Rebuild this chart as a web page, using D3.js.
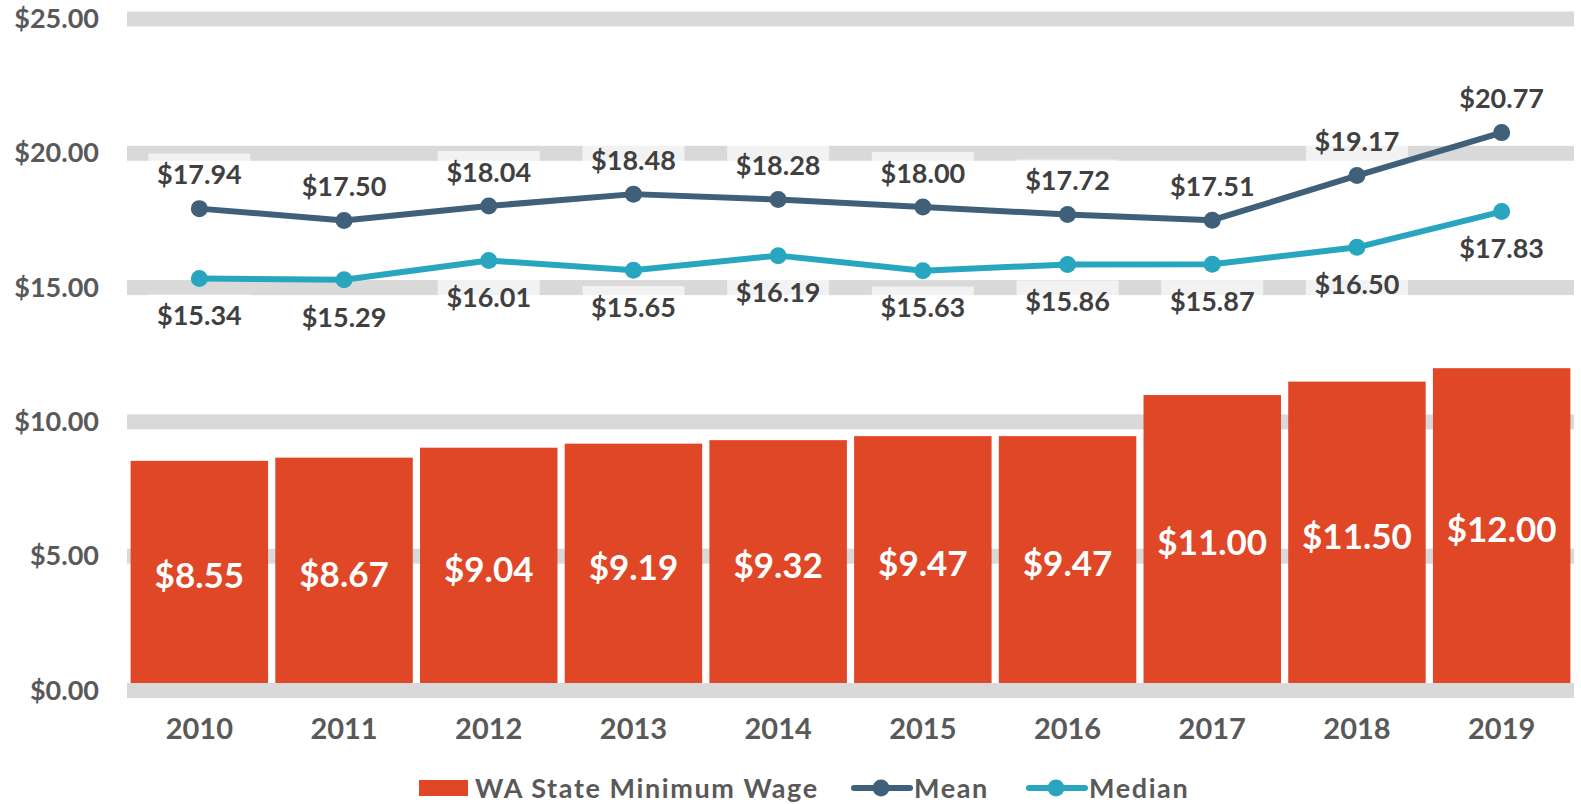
<!DOCTYPE html>
<html>
<head>
<meta charset="utf-8">
<script src="https://cdn.jsdelivr.net/npm/d3@7"></script>
<style>
  body { margin: 0; background: #fff; }
  text { font-family: Lato, "Open Sans", sans-serif; font-weight: 700; }
</style>
</head>
<body>
<div id="chart"></div>
<script>
var years = [2010, 2011, 2012, 2013, 2014, 2015, 2016, 2017, 2018, 2019];
var minWage = [8.55, 8.67, 9.04, 9.19, 9.32, 9.47, 9.47, 11.00, 11.50, 12.00];
var meanWage = [17.94, 17.50, 18.04, 18.48, 18.28, 18.00, 17.72, 17.51, 19.17, 20.77];
var medianWage = [15.34, 15.29, 16.01, 15.65, 16.19, 15.63, 15.86, 15.87, 16.50, 17.83];
var yTicks = [0, 5, 10, 15, 20, 25];

var width = 1581,
  height = 804;

var barColor = '#e04726',
  meanColor = '#3f6078',
  medianColor = '#29a6bf',
  gridColor = '#d9d9d9',
  axisText = '#595959',
  labelText = '#404040';

var money = function(v) { return '$' + v.toFixed(2); };

var svg = d3.select('#chart')
  .append('svg')
  .attr('width', width)
  .attr('height', height);

// Scales

var xScale = d3.scaleBand()
  .domain(years)
  .range([127, 1574])
  .paddingInner(0.05)
  .paddingOuter(0.025);

var yScale = d3.scaleLinear()
  .domain([0, 25])
  .range([690.5, 19]);

var cx = function(d, i) { return xScale(years[i]) + xScale.bandwidth() / 2; };

// Gridlines (thick grey bands), zero line goes on top of the bars later

svg.append('g')
  .selectAll('rect')
  .data(yTicks.filter(function(t) { return t > 0; }))
  .enter()
  .append('rect')
  .attr('x', 127)
  .attr('width', 1574 - 127)
  .attr('y', function(d) { return yScale(d) - 7.5; })
  .attr('height', 15)
  .attr('fill', gridColor);

// Y axis labels

var yAxis = svg.append('g')
  .attr('transform', 'translate(99,0)')
  .call(d3.axisLeft(yScale).tickValues(yTicks).tickSize(0).tickPadding(0).tickFormat(money));
yAxis.select('.domain').remove();
yAxis.selectAll('text')
  .attr('fill', axisText)
  .style('font-size', '27px')
  .style('font-family', 'Lato, sans-serif')
  .style('font-weight', 700);

// X axis labels

var xAxis = svg.append('g')
  .attr('transform', 'translate(0,729)')
  .call(d3.axisBottom(xScale).tickSize(0).tickPadding(0));
xAxis.select('.domain').remove();
xAxis.selectAll('text')
  .attr('dy', '0.35em')
  .attr('y', 0)
  .attr('fill', axisText)
  .style('font-size', '29px')
  .style('font-family', 'Lato, sans-serif')
  .style('font-weight', 700);

// Bars

svg.append('g')
  .selectAll('rect')
  .data(minWage)
  .enter()
  .append('rect')
  .attr('x', function(d, i) { return xScale(years[i]); })
  .attr('width', xScale.bandwidth())
  .attr('y', function(d) { return yScale(d); })
  .attr('height', function(d) { return yScale(0) - yScale(d); })
  .attr('fill', barColor);

svg.append('rect')
  .attr('x', 127)
  .attr('width', 1574 - 127)
  .attr('y', yScale(0) - 7.5)
  .attr('height', 15)
  .attr('fill', gridColor);

svg.append('g')
  .selectAll('text')
  .data(minWage)
  .enter()
  .append('text')
  .attr('x', cx)
  .attr('y', function(d) { return (yScale(d) + yScale(0)) / 2; })
  .attr('dy', '0.36em')
  .attr('text-anchor', 'middle')
  .attr('fill', '#fff')
  .style('font-size', '35px')
  .text(money);

// Label boxes for the line series

function labelBoxes(values, offset) {
  svg.append('g')
    .selectAll('rect')
    .data(values)
    .enter()
    .append('rect')
    .attr('x', function(d, i) { return cx(d, i) - 51; })
    .attr('width', 102)
    .attr('y', function(d) { return yScale(d) + offset - 21; })
    .attr('height', 42)
    .attr('fill', '#fff')
    .attr('fill-opacity', 0.65);
}

labelBoxes(meanWage, -34);
labelBoxes(medianWage, 37);

// Lines

var line = d3.line()
  .x(cx)
  .y(function(d) { return yScale(d); });

function drawSeries(values, color, offset) {
  svg.append('path')
    .datum(values)
    .attr('d', line)
    .attr('fill', 'none')
    .attr('stroke', color)
    .attr('stroke-width', 6)
    .attr('stroke-linejoin', 'round');

  svg.append('g')
    .selectAll('circle')
    .data(values)
    .enter()
    .append('circle')
    .attr('cx', cx)
    .attr('cy', function(d) { return yScale(d); })
    .attr('r', 8.5)
    .attr('fill', color);

  svg.append('g')
    .selectAll('text')
    .data(values)
    .enter()
    .append('text')
    .attr('x', cx)
    .attr('y', function(d) { return yScale(d) + offset; })
    .attr('dy', '0.36em')
    .attr('text-anchor', 'middle')
    .attr('fill', labelText)
    .style('font-size', '27px')
    .text(money);
}

drawSeries(meanWage, meanColor, -34);
drawSeries(medianWage, medianColor, 37);

// Legend

var legend = svg.append('g');

legend.append('rect')
  .attr('x', 419)
  .attr('y', 780)
  .attr('width', 49)
  .attr('height', 16)
  .attr('fill', barColor);

legend.append('text')
  .attr('x', 475)
  .attr('y', 798)
  .attr('fill', axisText)
  .style('font-size', '27px')
  .style('letter-spacing', '1.6px')
  .text('WA State Minimum Wage');

[
  { name: 'Mean', color: meanColor, x0: 854 },
  { name: 'Median', color: medianColor, x0: 1029 }
].forEach(function(s) {
  legend.append('line')
    .attr('x1', s.x0)
    .attr('x2', s.x0 + 56)
    .attr('y1', 788)
    .attr('y2', 788)
    .attr('stroke', s.color)
    .attr('stroke-width', 6)
    .attr('stroke-linecap', 'round');
  legend.append('circle')
    .attr('cx', s.x0 + 27)
    .attr('cy', 788)
    .attr('r', 8.5)
    .attr('fill', s.color);
  legend.append('text')
    .attr('x', s.x0 + 60)
    .attr('y', 798)
    .attr('fill', axisText)
    .style('font-size', '27px')
    .style('letter-spacing', '1.6px')
    .text(s.name);
});
</script>
</body>
</html>
